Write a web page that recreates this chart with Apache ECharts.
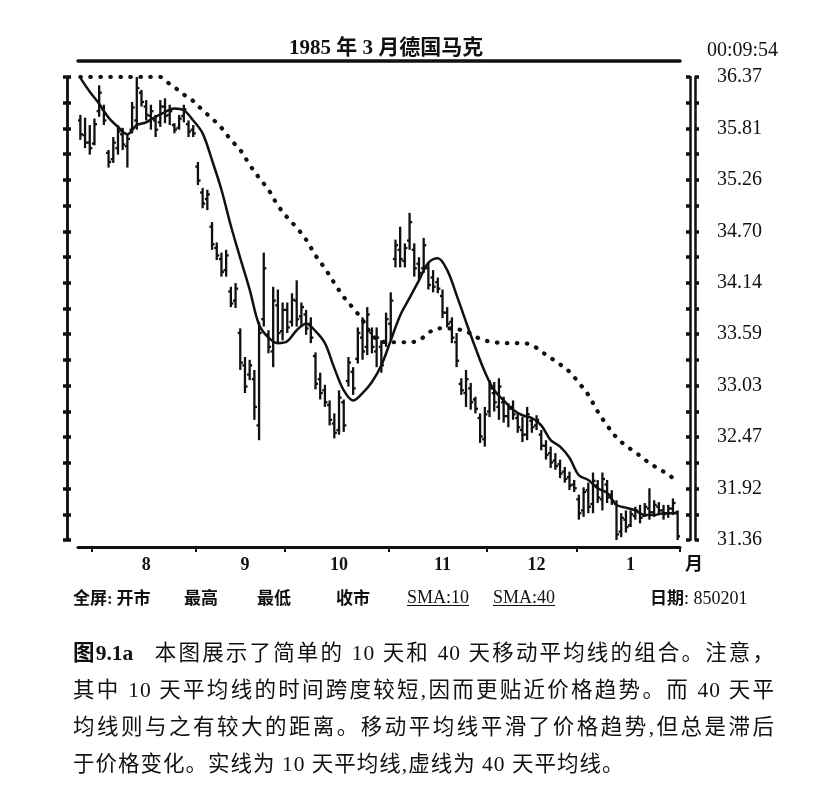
<!DOCTYPE html>
<html>
<head>
<meta charset="utf-8">
<script src="https://cdn.jsdelivr.net/npm/echarts@6/dist/echarts.min.js"></script>
<style>
  html,body{margin:0;padding:0;background:#fff;}
  #wrap{position:relative;width:825px;height:789px;overflow:hidden;}
  #chart{position:absolute;left:0;top:0;width:825px;height:789px;}
  .lg{position:absolute;top:586px;font-size:17px;color:#111;white-space:nowrap;line-height:22px;}
  .cj{font-family:"Noto Sans CJK SC";font-weight:700;}
  .sf{font-family:"Liberation Serif";}
  .u{text-decoration:underline;text-underline-offset:2px;}
  #cap{position:absolute;left:73px;top:637px;width:702px;font-family:"Liberation Serif","Noto Sans CJK SC";font-size:21.5px;letter-spacing:1px;color:#111;}
  #cap div{height:37px;line-height:32px;text-align:justify;text-align-last:justify;white-space:nowrap;}
  #cap div.last{text-align-last:left;}
  #cap b{font-family:"Liberation Serif","Noto Sans CJK SC";font-weight:700;letter-spacing:0;margin-right:14px;}
</style>
</head>
<body>
<div id="wrap">
  <div id="chart"></div>
  <div class="lg cj" style="left:73px">全屏<span class="sf">:</span> 开市</div>
  <div class="lg cj" style="left:184px">最高</div>
  <div class="lg cj" style="left:257px">最低</div>
  <div class="lg cj" style="left:336px">收市</div>
  <div class="lg sf u" style="left:407px;font-size:18px">SMA:10</div>
  <div class="lg sf u" style="left:493px;font-size:18px">SMA:40</div>
  <div class="lg" style="left:650px"><span class="cj">日期</span><span class="sf" style="font-size:18px">: 850201</span></div>
  <div id="cap">
    <div><b>图9.1a</b> 本图展示了简单的 10 天和 40 天移动平均线的组合。注意，</div>
    <div>其中 10 天平均线的时间跨度较短,因而更贴近价格趋势。而 40 天平</div>
    <div>均线则与之有较大的距离。移动平均线平滑了价格趋势,但总是滞后</div>
    <div class="last">于价格变化。实线为 10 天平均线,虚线为 40 天平均线。</div>
  </div>
</div>
<script>
// ---- data ----
const monthLabels = ['7', '8', '9', '10', '11', '12', '1'];
const monthStarts = [0, 3, 25, 44, 66, 87, 106, 128];
const yTickLabels = ['31.36','31.92','32.47','33.03','33.59','34.14','34.70','35.26','35.81','36.37'];

const barHigh = [35.96,35.93,35.85,35.92,36.28,36.07,35.58,35.72,35.85,35.82,35.76,36.10,36.37,36.23,36.12,36.07,35.96,36.12,36.14,36.07,35.87,35.96,36.07,35.90,35.85,
 35.45,35.17,35.15,34.80,34.58,34.47,34.50,34.10,34.14,33.65,33.34,33.31,33.20,33.72,34.47,33.63,34.10,34.07,33.93,
 33.93,34.03,34.17,33.93,33.85,33.77,33.39,33.17,33.04,32.87,32.73,32.98,32.88,33.34,33.23,33.66,33.77,33.88,33.66,33.66,33.52,33.82,
 34.04,34.61,34.75,34.57,34.90,34.57,34.42,34.63,34.36,34.28,34.20,34.07,33.88,33.77,33.60,33.11,33.20,33.06,32.91,32.73,32.80,
 33.09,33.07,33.11,32.91,32.84,32.87,32.73,32.69,32.80,32.69,32.71,32.55,32.44,32.37,32.30,32.23,32.15,32.10,32.01,
 31.85,31.93,31.98,32.09,32.01,32.09,32.01,31.90,31.79,31.65,31.68,31.68,31.72,31.74,31.76,31.92,31.79,31.77,31.74,31.74,31.81,31.68];
const barLow = [35.69,35.60,35.53,35.63,35.94,35.85,35.39,35.44,35.53,35.58,35.39,35.76,35.80,36.05,35.90,35.80,35.72,35.83,35.87,35.85,35.76,35.80,35.88,35.72,35.72,
 35.20,34.95,34.93,34.50,34.39,34.21,34.21,33.88,33.87,33.20,32.95,33.09,32.66,32.44,33.67,33.38,33.23,33.49,33.52,
 33.60,33.67,33.67,33.67,33.58,33.49,32.99,32.88,32.80,32.60,32.46,32.50,32.53,33.02,32.93,33.27,33.31,33.36,33.38,33.23,33.17,33.45,
 33.52,34.31,34.31,34.31,34.50,34.21,34.17,34.25,34.07,34.04,34.03,33.76,33.66,33.49,33.23,32.93,32.80,32.77,32.73,32.41,32.37,
 32.69,32.75,32.66,32.63,32.58,32.66,32.52,32.42,32.44,32.52,32.55,32.33,32.23,32.14,32.12,32.03,31.98,31.90,31.88,
 31.58,31.61,31.65,31.65,31.76,31.68,31.76,31.74,31.36,31.39,31.44,31.50,31.58,31.54,31.61,31.58,31.61,31.63,31.58,31.60,31.63,31.36];
const barOpen = [35.90,35.74,35.66,35.65,36.00,36.02,35.55,35.48,35.60,35.75,35.62,35.80,35.90,36.20,36.05,35.95,35.90,35.88,36.05,35.96,35.85,35.82,35.95,35.86,35.80,
 35.40,35.12,35.05,34.75,34.52,34.40,34.28,34.05,33.95,33.60,33.25,33.15,33.10,32.60,33.75,33.58,33.40,33.90,33.62,
 33.85,33.72,33.95,33.78,33.80,33.70,33.35,33.10,32.98,32.82,32.62,32.55,32.85,33.08,33.18,33.32,33.55,33.45,33.60,33.40,33.45,33.50,
 33.70,34.40,34.50,34.38,34.60,34.50,34.35,34.30,34.30,34.20,34.15,34.00,33.82,33.72,33.50,33.05,32.95,33.00,32.88,32.68,32.45,
 32.75,32.95,32.80,32.85,32.70,32.80,32.68,32.55,32.50,32.65,32.60,32.50,32.38,32.30,32.22,32.18,32.10,32.04,31.96,
 31.80,31.68,31.90,31.75,31.95,31.80,31.96,31.85,31.75,31.45,31.58,31.52,31.62,31.66,31.62,31.70,31.66,31.72,31.68,31.65,31.70,31.66];
const barClose = [35.75,35.66,35.60,35.86,36.20,35.90,35.45,35.66,35.78,35.64,35.70,36.04,36.25,36.10,35.96,36.00,35.80,36.05,35.95,36.00,35.80,35.92,36.02,35.78,35.76,
 35.25,35.00,35.10,34.56,34.44,34.26,34.44,33.92,34.08,33.28,33.02,33.25,32.80,33.60,34.30,33.45,33.95,33.60,33.85,
 33.66,33.96,33.75,33.88,33.65,33.55,33.05,32.95,32.85,32.66,32.52,32.90,32.60,33.28,33.00,33.60,33.40,33.80,33.45,33.55,33.25,33.75,
 33.95,34.55,34.40,34.52,34.80,34.30,34.25,34.55,34.12,34.10,34.08,33.82,33.70,33.55,33.30,32.98,33.10,32.85,32.78,32.48,32.72,
 33.00,32.85,33.02,32.70,32.78,32.72,32.58,32.50,32.72,32.58,32.66,32.38,32.28,32.20,32.16,32.08,32.02,31.95,31.92,
 31.65,31.88,31.72,32.00,31.82,32.02,31.82,31.78,31.42,31.60,31.50,31.64,31.68,31.60,31.72,31.66,31.74,31.68,31.64,31.70,31.76,31.40];

// SMA readings: [bar index, value]
const sma10 = [[0,36.36],[2,36.21],[4,36.08],[6,35.93],[8,35.83],[10,35.75],[12,35.85],[14,35.88],[16,35.94],[18,35.99],[20,36.03],[22,36.01],[24,35.90],
 [26,35.76],[28,35.47],[30,35.15],[32,34.76],[34,34.41],[36,34.07],[38,33.69],[40,33.55],[42,33.49],[44,33.51],[46,33.63],[48,33.70],[50,33.62],
 [52,33.49],[54,33.22],[56,32.98],[58,32.87],[60,32.95],[62,33.07],[64,33.25],[66,33.52],[68,33.79],[70,33.98],[72,34.17],[74,34.36],[76,34.41],
 [78,34.28],[80,34.01],[82,33.72],[84,33.44],[86,33.18],[88,32.98],[90,32.87],[92,32.77],[94,32.71],[96,32.68],[98,32.60],[100,32.44],[102,32.37],
 [104,32.25],[106,32.06],[108,32.01],[110,31.92],[112,31.87],[114,31.74],[116,31.71],[118,31.68],[120,31.63],[122,31.63],[124,31.65],[126,31.65],[127,31.65]];
const sma40 = [[0,36.37],[4,36.37],[8,36.37],[12,36.37],[16,36.37],[17,36.37],[18,36.33],[20,36.26],[22,36.18],[24,36.11],[26,36.01],[28,35.92],[30,35.82],
 [32,35.69],[34,35.58],[36,35.42],[38,35.28],[40,35.15],[42,34.98],[44,34.85],[46,34.74],[48,34.61],[50,34.44],[52,34.30],[54,34.14],[56,33.99],
 [58,33.87],[60,33.74],[62,33.58],[64,33.51],[66,33.50],[68,33.50],[70,33.50],[72,33.52],[74,33.60],[76,33.65],[78,33.65],[80,33.64],[82,33.62],
 [84,33.56],[86,33.52],[88,33.50],[90,33.49],[92,33.49],[94,33.49],[96,33.47],[98,33.40],[100,33.33],[102,33.26],[104,33.18],[106,33.06],[108,32.93],
 [110,32.75],[112,32.60],[114,32.47],[116,32.38],[118,32.31],[120,32.23],[122,32.16],[124,32.10],[126,32.03],[127,31.98]];

// ---- build ----
const categories = [];
for (let m = 0; m < monthLabels.length; m++) {
  for (let i = monthStarts[m]; i < monthStarts[m + 1]; i++) categories.push(monthLabels[m]);
}
const labelIdx = [];
for (let m = 1; m < monthLabels.length; m++) labelIdx.push(Math.round((monthStarts[m] + monthStarts[m + 1]) / 2));
const ohlc = barHigh.map((h, i) => [i, barOpen[i], h, barLow[i], barClose[i]]);

const yMin = +yTickLabels[0], yMax = +yTickLabels[yTickLabels.length - 1];
const yStep = (yMax - yMin) / (yTickLabels.length - 1);
const INK = '#111';
const serif = '"Liberation Serif", "Noto Sans CJK SC"';

function yAx(pos, offset, inside, tickLen, showLabel) {
  return {
    type: 'value', position: pos, offset: offset, min: yMin, max: yMax, interval: yStep,
    axisLine: { show: true, lineStyle: { color: INK, width: 2.5 } },
    axisTick: { show: true, inside: inside, length: tickLen, lineStyle: { color: INK, width: 3.5 } },
    minorTick: { show: true, splitNumber: 2, length: tickLen, lineStyle: { color: INK, width: 3.5 } },
    splitLine: { show: false },
    axisLabel: {
      show: showLabel, margin: 22, color: INK, fontFamily: serif, fontSize: 20,
      formatter: v => { const k = Math.round((v - yMin) / yStep); return yTickLabels[k]; }
    }
  };
}

const chart = echarts.init(document.getElementById('chart'), null, { renderer: 'canvas' });
chart.setOption({
  backgroundColor: '#fff',
  animation: false,
  title: [
    { text: '1985 年 3 月德国马克', left: 284, top: 33, textStyle: { fontSize: 21, fontWeight: 'bold', fontFamily: serif, color: INK } },
    { text: '00:09:54', left: 702, top: 36, textStyle: { fontSize: 20, fontWeight: 'normal', fontFamily: serif, color: INK } }
  ],
  grid: { left: 78, right: 145, top: 77, bottom: 249, containLabel: false },
  xAxis: [
    {
      type: 'category', data: categories, position: 'bottom', offset: 7, boundaryGap: true,
      axisLine: { show: true, lineStyle: { color: INK, width: 3 } },
      axisTick: { show: true, length: 5, lineStyle: { color: INK, width: 2 },
        interval: (idx) => monthStarts.indexOf(idx) > 0 },
      axisLabel: { show: true, margin: 9, color: INK, fontFamily: serif, fontWeight: 'bold', fontSize: 18,
        interval: (idx) => labelIdx.indexOf(idx) >= 0 },
      splitLine: { show: false },
      name: '月', nameLocation: 'end', nameGap: 5,
      nameTextStyle: { color: INK, fontFamily: '"Noto Sans CJK SC"', fontWeight: 'bold', fontSize: 18, verticalAlign: 'top', padding: [7, 0, 0, 0] }
    },
    {
      type: 'category', data: categories, position: 'top', offset: 16, boundaryGap: true,
      axisLine: { show: true, lineStyle: { color: INK, width: 3.5 } },
      axisTick: { show: false }, axisLabel: { show: false }, splitLine: { show: false }
    }
  ],
  yAxis: [
    yAx('left', 11, false, 4, false),
    yAx('left', 11, true, 4, false),
    yAx('right', 10, true, 4, false),
    yAx('right', 15, false, 4, true)
  ],
  series: [
    {
      type: 'custom', name: 'OHLC', xAxisIndex: 0, yAxisIndex: 0,
      data: ohlc, encode: { x: 0, y: [1, 2, 3, 4] }, clip: true,
      renderItem: function (params, api) {
        const i = api.value(0);
        const pO = api.coord([i, api.value(1)]);
        const pH = api.coord([i, api.value(2)]);
        const pL = api.coord([i, api.value(3)]);
        const pC = api.coord([i, api.value(4)]);
        const w = api.size([1, 0])[0] * 0.55;
        const st = { stroke: INK, lineWidth: 2.3 };
        return {
          type: 'group',
          children: [
            { type: 'line', shape: { x1: pH[0], y1: pH[1], x2: pL[0], y2: pL[1] }, style: st },
            { type: 'line', shape: { x1: pO[0] - w, y1: pO[1], x2: pO[0], y2: pO[1] }, style: st },
            { type: 'line', shape: { x1: pC[0], y1: pC[1], x2: pC[0] + w, y2: pC[1] }, style: st }
          ]
        };
      }
    },
    {
      type: 'line', name: 'SMA:10', data: sma10, smooth: 0.35, symbol: 'none',
      lineStyle: { color: INK, width: 2.5 }, z: 3
    },
    {
      type: 'line', name: 'SMA:40', data: sma40, smooth: 0.35, symbol: 'none',
      lineStyle: { color: INK, width: 4.2, type: [0.5, 9.5], cap: 'round' }, z: 3
    }
  ]
});
</script>
</body>
</html>
